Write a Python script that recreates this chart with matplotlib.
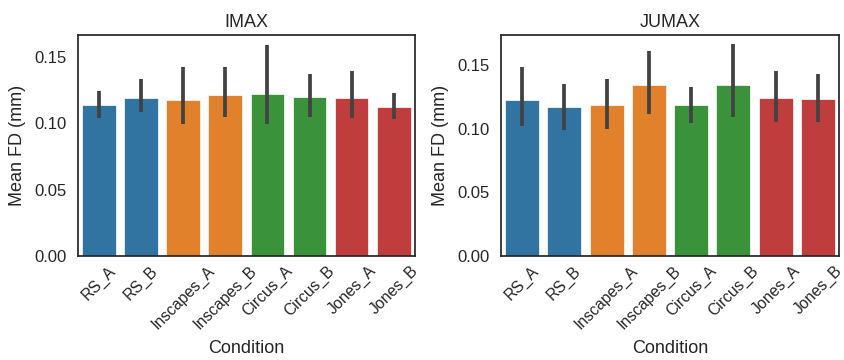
import matplotlib
matplotlib.use("Agg")
import matplotlib.pyplot as plt
import numpy as np

conditions = ["RS_A", "RS_B", "Inscapes_A", "Inscapes_B", "Circus_A", "Circus_B", "Jones_A", "Jones_B"]
colors = ["#3274a1", "#3274a1", "#e1812c", "#e1812c", "#3a923a", "#3a923a", "#c03d3e", "#c03d3e"]

imax_mean = [0.1136, 0.1186, 0.1174, 0.1209, 0.1217, 0.1194, 0.1186, 0.1119]
imax_lo   = [0.1041, 0.1086, 0.0993, 0.1048, 0.0991, 0.1043, 0.1036, 0.1028]
imax_hi   = [0.1244, 0.1329, 0.1420, 0.1420, 0.1588, 0.1372, 0.1390, 0.1229]

jumax_mean = [0.1225, 0.1168, 0.1186, 0.1343, 0.1186, 0.1343, 0.1238, 0.1230]
jumax_lo   = [0.1021, 0.0990, 0.0995, 0.1118, 0.1047, 0.1094, 0.1055, 0.1055]
jumax_hi   = [0.1482, 0.1348, 0.1393, 0.1610, 0.1330, 0.1662, 0.1450, 0.1432]

panels = [
    ("IMAX", imax_mean, imax_lo, imax_hi, 0.1663),
    ("JUMAX", jumax_mean, jumax_lo, jumax_hi, 0.1736),
]

plt.rcParams['font.family'] = ['Liberation Sans', 'DejaVu Sans']
text_col = "#262626"

fig = plt.figure(figsize=(8.44, 3.6), dpi=100)
positions = [[0.0924, 0.289, 0.399, 0.614], [0.5936, 0.289, 0.4005, 0.614]]

for pos, (title, mean, lo, hi, ytop) in zip(positions, panels):
    ax = fig.add_axes(pos)
    x = np.arange(len(conditions))
    ax.bar(x, mean, width=0.8, color=colors, edgecolor="white", linewidth=0.5, zorder=2)
    ax.vlines(x, lo, hi, color="#424242", linewidth=2.7, zorder=3)
    ax.set_xlim(-0.5, len(conditions) - 0.5)
    ax.set_ylim(0, ytop)
    ax.set_yticks([0.0, 0.05, 0.10, 0.15])
    ax.set_yticklabels(["0.00", "0.05", "0.10", "0.15"])
    ax.set_xticks(x)
    ax.set_xticklabels(conditions, rotation=45, ha="center")
    ax.tick_params(axis="y", length=0, labelsize=12, colors=text_col, pad=8)
    ax.tick_params(axis="x", length=0, labelsize=11.3, colors=text_col, pad=5)
    ax.set_title(title, fontsize=13, color=text_col, pad=6)
    ax.set_ylabel("Mean FD (mm)", fontsize=13, color=text_col, labelpad=6)
    ax.set_xlabel("Condition", fontsize=13, color=text_col, labelpad=6)
    for s in ax.spines.values():
        s.set_color(text_col)
        s.set_linewidth(1.25)

fig.savefig("out.png", dpi=100, facecolor="white")
